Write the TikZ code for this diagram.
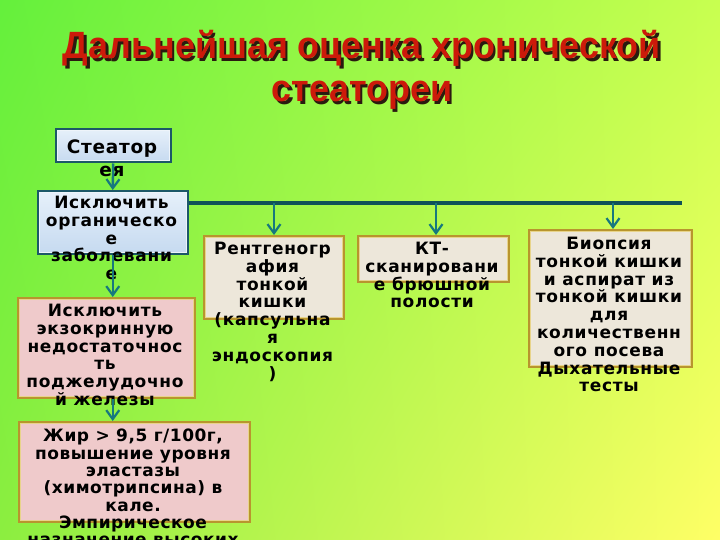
\documentclass[tikz,border=0pt]{standalone}
\usepackage{fontspec}
\usetikzlibrary{arrows.meta,shadings}
\newfontfamily\boxfont[LetterSpace=4]{DejaVu Sans}
\newfontfamily\boxfontw[LetterSpace=3]{DejaVu Sans}
\newfontfamily\titlefont{Liberation Sans}
\definecolor{bgTL}{HTML}{64F03C}
\definecolor{bgTR}{HTML}{C8FF50}
\definecolor{bgBL}{HTML}{8CEE40}
\definecolor{bgBR}{HTML}{FFFF66}
\definecolor{titlered}{HTML}{CC1A0A}
\definecolor{titleshadow}{HTML}{2A1A10}
\definecolor{blueedge}{HTML}{1C5868}
\definecolor{bluetop}{HTML}{E6F0FA}
\definecolor{bluebot}{HTML}{C6DAF0}
\definecolor{goldedge}{HTML}{B8952E}
\definecolor{goldlight}{HTML}{E8D48A}
\definecolor{beige}{HTML}{EDE7DA}
\definecolor{pink}{HTML}{EFCACB}
\definecolor{arrteal}{HTML}{17787E}
\definecolor{lineteal}{HTML}{0F5258}
\tikzset{
  boxbase/.style={anchor=north west, inner sep=0pt},
  bluebox/.style={boxbase, draw=blueedge, line width=2.5pt, top color=bluetop, bottom color=bluebot},
  beigebox/.style={boxbase, draw=goldedge, line width=3pt, fill=beige},
  pinkbox/.style={boxbase, draw=goldedge, line width=3pt, fill=pink},
  bluebevel/.style={draw=white!70!bluebot, line width=1pt},
  goldbevel/.style={draw=goldlight, line width=0.8pt},
  boxtext/.style={anchor=north, inner sep=0pt, align=center, text=black,
     font=\boxfont\bfseries\fontsize{17}{17.8}\selectfont},
  arr/.style={draw=arrteal, line width=2.5pt, -{Straight Barb[length=9pt,width=13pt,line width=2.2pt]}},
  hline/.style={draw=lineteal, line width=3.5pt},
  titletext/.style={anchor=base, inner sep=0pt, font=\titlefont\bfseries\fontsize{38}{42}\selectfont}
}
\begin{document}
\begin{tikzpicture}[x=1pt,y=-1pt]
\useasboundingbox (0,0) rectangle (720,540);
\begin{scope}
\clip (0,0) rectangle (720,540);
\shade[upper left=bgTL, upper right=bgTR, lower left=bgBL, lower right=bgBR] (0,0) rectangle (720,540);

% title
\node[titletext, text=titleshadow] (title1s) at (364.5,61.5) {\scalebox{0.945}[1]{Дальнейшая оценка хронической}};
\node[titletext, text=titlered] (title1) at (362,59) {\scalebox{0.945}[1]{Дальнейшая оценка хронической}};
\node[titletext, text=titleshadow] (title2s) at (364.5,104.5) {\scalebox{0.945}[1]{стеатореи}};
\node[titletext, text=titlered] (title2) at (362,102) {\scalebox{0.945}[1]{стеатореи}};

% boxes
\node[bluebox, minimum width=114pt, minimum height=33pt] (b1) at (55,128) {};
\node[bluebox, minimum width=149pt, minimum height=62pt] (b2) at (37,190) {};
\node[pinkbox, minimum width=176pt, minimum height=99pt] (b3) at (17,297) {};
\node[pinkbox, minimum width=230pt, minimum height=99pt] (b4) at (18,421) {};
\node[beigebox, minimum width=139pt, minimum height=82pt] (b7) at (203,235) {};
\node[beigebox, minimum width=150pt, minimum height=45pt] (b8) at (357,235) {};
\node[beigebox, minimum width=162pt, minimum height=136pt] (b9) at (528,229) {};

\foreach \b in {b1,b2}
  \draw[bluebevel] ([shift={(2.5,2.5)}]\b.north west) rectangle ([shift={(-2.5,-2.5)}]\b.south east);
\foreach \b in {b3,b4,b7,b8,b9}
  \draw[goldbevel] ([shift={(2.5,2.5)}]\b.north west) rectangle ([shift={(-2.5,-2.5)}]\b.south east);

% texts
\node[boxtext, font=\boxfont\bfseries\fontsize{18.5}{23}\selectfont] (t1) at (112,140) {Стеатор\\ея};
\node[boxtext] (t2) at (111.5,196) {Исключить\\органическо\\е\\заболевани\\е};
\node[boxtext] (t3) at (105,304) {Исключить\\экзокринную\\недостаточнос\\ть\\поджелудочно\\й железы};
\node[boxtext, font=\boxfontw\bfseries\fontsize{17}{17.3}\selectfont] (t4) at (133,429) {Жир > 9,5 г/100г,\\повышение уровня\\эластазы\\(химотрипсина) в\\кале.\\Эмпирическое\\назначение высоких};
\node[boxtext] (t7) at (272.5,242) {Рентгеногр\\афия\\тонкой\\кишки\\(капсульна\\я\\эндоскопия\\)};
\node[boxtext] (t8) at (432,242) {КТ-\\сканировани\\е брюшной\\полости};
\node[boxtext] (t9) at (609,237) {Биопсия\\тонкой кишки\\и аспират из\\тонкой кишки\\для\\количественн\\ого посева\\Дыхательные\\тесты};

% connectors
\coordinate (hend) at (682,203);
\draw[hline] (b2.east |- hend) -- (hend);
\coordinate (d7) at (274,203);
\coordinate (d8) at (436,203);
\coordinate (d9) at (613,203);
\draw[arr] (d7) -- (d7 |- b7.north);
\draw[arr] (d8) -- (d8 |- b8.north);
\draw[arr] (d9) -- (d9 |- b9.north);
\draw[arr] (b1.south) -- (b2.north);
\draw[arr] (b2.south) -- (b2.south |- b3.north);
\draw[arr] (b2.south |- b3.south) -- (b2.south |- b4.north);
\end{scope}
\end{tikzpicture}
\end{document}
